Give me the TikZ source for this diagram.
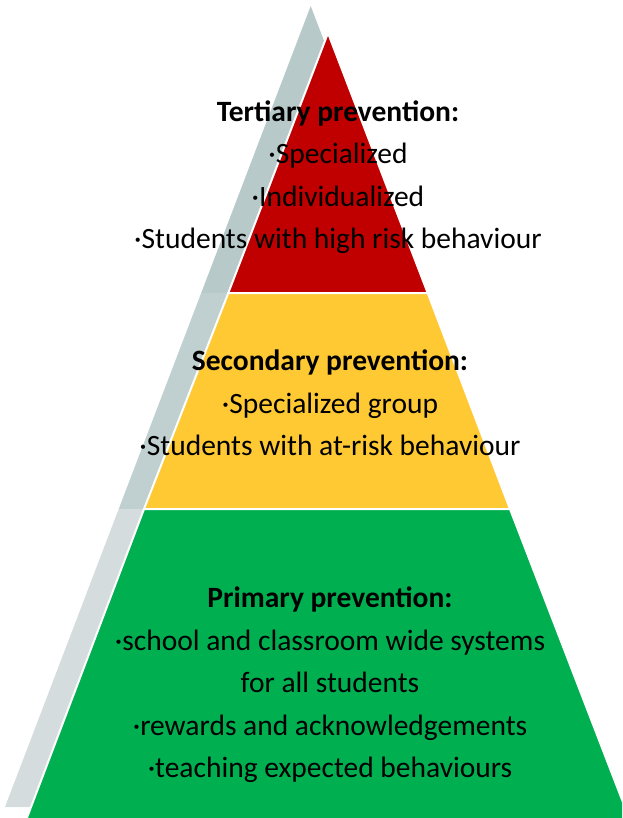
\documentclass[tikz,border=0pt]{standalone}
\usepackage{fontspec}
\setmainfont{Carlito}
\definecolor{tierred}{RGB}{192, 0, 0}
\definecolor{tieryellow}{RGB}{255, 201, 51}
\definecolor{tiergreen}{RGB}{0, 176, 80}
\definecolor{shadetop}{RGB}{184, 201, 201}
\definecolor{shademid}{RGB}{192, 207, 207}
\definecolor{shadelow}{RGB}{213, 220, 222}

\begin{document}
\begin{tikzpicture}[x=1pt, y=-1pt,
        tiertext/.style={align=center, font=\fontsize{29.5}{42.5}\selectfont},
        tier/.style={draw=white, line width=2pt, line join=miter}]
            \useasboundingbox (0,0) rectangle (622,818);
            \clip (0,0) rectangle (622,818);
            % Shadow behind the pyramid
            \fill[shadetop] (310.7,  6.0) -- (201.2, 293.0) -- (420.6, 293.0) -- cycle;
            \fill[shademid] (201.2, 293.0) -- (118.7, 509.0) -- (503.3, 509.0) -- (420.6, 293.0) -- cycle;
            \fill[shadelow] (118.7, 509.0) -- (  5.0, 807.0) -- (617.5, 807.0) -- (503.3, 509.0) -- cycle;
            % Tertiary tier
            \filldraw[tier, fill=tierred]    (328.0,  33.0) -- (228.3, 293.0) -- (427.7, 293.0) -- cycle;
            % Secondary tier
            \filldraw[tier, fill=tieryellow] (228.3, 293.0) -- (144.0, 509.0) -- (510.0, 509.0) -- (427.7, 293.0) -- cycle;
            % Primary tier
            \filldraw[tier, fill=tiergreen]  (144.0, 509.0) -- ( 22.3, 830.0) -- (633.7, 830.0) -- (510.0, 509.0) -- cycle;
            % Labels
            \node[tiertext] (tertiary)  at (338, 177) {\textbf{Tertiary prevention:}\\·Specialized\\·Individualized\\·Students with high risk behaviour};
            \node[tiertext] (secondary) at (330, 403) {\textbf{Secondary prevention:}\\·Specialized group\\·Students with at-risk behaviour};
            \node[tiertext] (primary)   at (330, 685) {\textbf{Primary prevention:}\\·school and classroom wide systems\\for all students\\·rewards and acknowledgements\\·teaching expected behaviours};
        \end{tikzpicture}
\end{document}
